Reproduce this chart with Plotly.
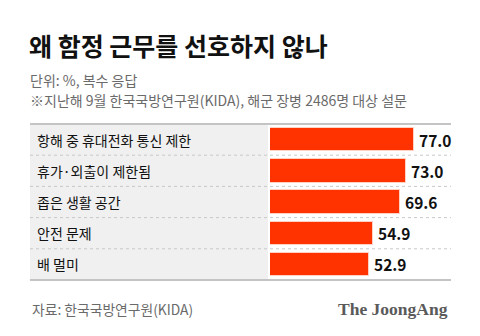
import plotly.graph_objects as go

categories = ["항해 중 휴대전화 통신 제한", "휴가·외출이 제한됨", "좁은 생활 공간", "안전 문제", "배 멀미"]
values = [77.0, 73.0, 69.6, 54.9, 52.9]
value_labels = ["77.0", "73.0", "69.6", "54.9", "52.9"]

title = "왜 함정 근무를 선호하지 않나"
subtitle1 = "단위: %, 복수 응답"
subtitle2 = "※지난해 9월 한국국방연구원(KIDA), 해군 장병 2486명 대상 설문"
source = "자료: 한국국방연구원(KIDA)"
brand = "The JoongAng"

W, H = 480, 336
FONT = "Noto Sans CJK KR"

def px(x):
    return x / W

def py(y):
    return 1 - y / H

top, bottom = 124, 280
x0_bar = 270
scale = 1.867
x_right = 451

fig = go.Figure()
fig.add_trace(go.Bar(
    y=list(range(len(categories))),
    x=values,
    orientation="h",
    width=0.75,
    marker=dict(color="#ff3300", line=dict(color="#ffd0c4", width=1)),
    hoverinfo="skip",
))

shapes = []
shapes.append(dict(type="rect", xref="paper", yref="paper",
                   x0=px(30), x1=px(268), y0=py(bottom), y1=py(top),
                   fillcolor="#f0f0f0", line=dict(width=0), layer="below"))
for yy in (top, bottom):
    shapes.append(dict(type="line", xref="paper", yref="paper",
                       x0=px(30), x1=px(x_right), y0=py(yy), y1=py(yy),
                       line=dict(color="#c4c4c4", width=2), layer="above"))
for i in range(len(categories) - 1):
    shapes.append(dict(type="line", xref="paper", yref="y",
                       x0=px(30), x1=px(x_right), y0=i + 0.5, y1=i + 0.5,
                       line=dict(color="#c8c8c8", width=1, dash="dot"), layer="above"))

annotations = []
for i, (c, v, lab) in enumerate(zip(categories, values, value_labels)):
    annotations.append(dict(text=c, xref="paper", yref="y", x=px(35), y=i,
                            xanchor="left", yanchor="middle", showarrow=False,
                            font=dict(family=FONT, size=14, color="#111111")))
    annotations.append(dict(text=f"<b>{lab}</b>", xref="x", yref="y", x=v, y=i,
                            xanchor="left", yanchor="middle", showarrow=False, xshift=3,
                            font=dict(family=FONT, size=15.5, color="#111111")))

annotations += [
    dict(text=f"<b>{title}</b>", xref="paper", yref="paper", x=px(27), y=py(45),
         xanchor="left", yanchor="middle", showarrow=False,
         font=dict(family=FONT, size=25, color="#111111")),
    dict(text=subtitle1, xref="paper", yref="paper", x=px(28), y=py(80),
         xanchor="left", yanchor="middle", showarrow=False,
         font=dict(family=FONT, size=14, color="#6a6a6a")),
    dict(text=subtitle2, xref="paper", yref="paper", x=px(28), y=py(100),
         xanchor="left", yanchor="middle", showarrow=False,
         font=dict(family=FONT, size=14, color="#6a6a6a")),
    dict(text=source, xref="paper", yref="paper", x=px(30), y=py(309),
         xanchor="left", yanchor="middle", showarrow=False,
         font=dict(family=FONT, size=13.8, color="#6a6a6a")),
    dict(text=f"<b>{brand}</b>", xref="paper", yref="paper", x=px(450), y=py(309),
         xanchor="right", yanchor="middle", showarrow=False,
         font=dict(family="Liberation Serif", size=17.5, color="#5a5a5a")),
]

fig.update_layout(
    width=W, height=H,
    margin=dict(l=0, r=0, t=0, b=0),
    paper_bgcolor="white", plot_bgcolor="rgba(0,0,0,0)",
    showlegend=False,
    bargap=0,
    shapes=shapes,
    annotations=annotations,
    xaxis=dict(domain=[px(x0_bar), px(x_right)], range=[0, (x_right - x0_bar) / scale],
               visible=False, fixedrange=True),
    yaxis=dict(domain=[py(bottom), py(top)], range=[len(categories) - 0.5, -0.5],
               visible=False, fixedrange=True),
)

fig.write_html("out.html", config={"displayModeBar": False})
